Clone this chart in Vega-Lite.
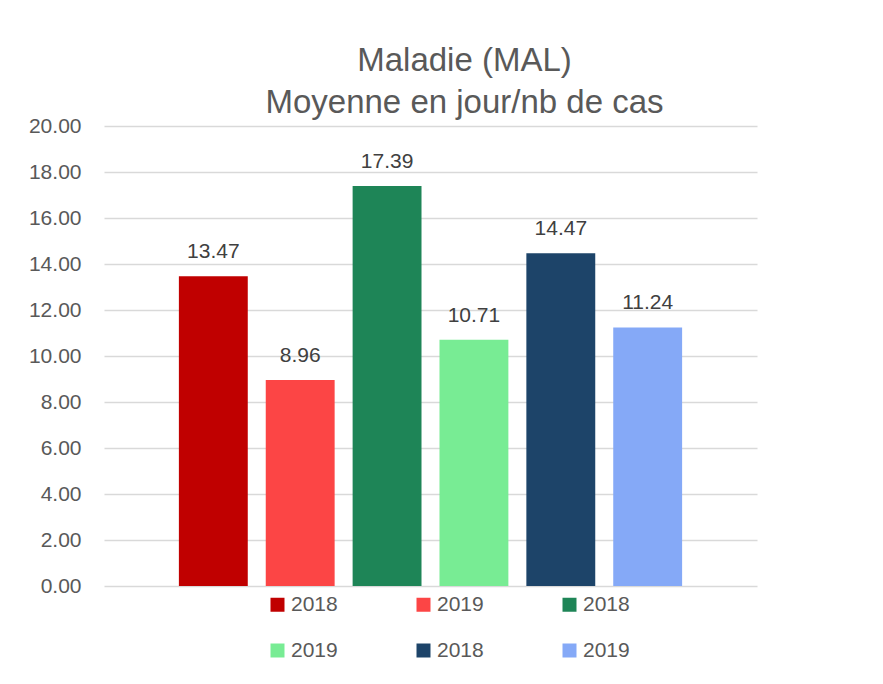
{
  "$schema": "https://vega.github.io/schema/vega-lite/v6.json",
  "autosize": {"type": "none"},
  "width": 653,
  "height": 460,
  "padding": {"left": 104, "top": 126, "right": 126, "bottom": 98},
  "background": "white",
  "config": {
    "font": "Liberation Sans",
    "view": {"stroke": null},
    "axis": {"labelFont": "Liberation Sans"}
  },
  "title": {
    "text": ["Maladie (MAL)", "Moyenne en jour/nb de cas"],
    "fontSize": 33,
    "fontWeight": "normal",
    "color": "#595959",
    "anchor": "middle",
    "baseline": "alphabetic",
    "lineHeight": 42,
    "offset": -31,
    "dx": 34
  },
  "data": {
    "values": [
      {"id": "a|2018", "valeur": 13.47},
      {"id": "b|2019", "valeur": 8.96},
      {"id": "c|2018", "valeur": 17.39},
      {"id": "d|2019", "valeur": 10.71},
      {"id": "e|2018", "valeur": 14.47},
      {"id": "f|2019", "valeur": 11.24}
    ]
  },
  "encoding": {
    "x": {
      "field": "id",
      "type": "nominal",
      "sort": null,
      "axis": null,
      "scale": {"paddingInner": 0.207, "paddingOuter": 0.862}
    },
    "y": {
      "field": "valeur",
      "type": "quantitative",
      "scale": {"domain": [0, 20], "nice": false},
      "axis": {
        "values": [0, 2, 4, 6, 8, 10, 12, 14, 16, 18, 20],
        "format": ".2f",
        "title": null,
        "domain": false,
        "ticks": false,
        "tickSize": 0,
        "labelPadding": 23,
        "labelFontSize": 21,
        "labelColor": "#595959",
        "gridColor": "#d9d9d9",
        "gridWidth": 1.5
      }
    }
  },
  "layer": [
    {
      "mark": {"type": "bar"},
      "encoding": {
        "color": {
          "field": "id",
          "type": "nominal",
          "sort": null,
          "scale": {
            "domain": ["a|2018", "b|2019", "c|2018", "d|2019", "e|2018", "f|2019"],
            "range": ["#C00000", "#FC4545", "#1E8557", "#78EC94", "#1D4469", "#85A9F7"]
          },
          "legend": {
            "title": null,
            "orient": "none",
            "legendX": 163,
            "legendY": 468,
            "direction": "horizontal",
            "columns": 3,
            "columnPadding": 75,
            "rowPadding": 24,
            "symbolType": "square",
            "symbolSize": 196,
            "symbolStrokeWidth": 0,
            "labelFontSize": 21,
            "labelColor": "#595959",
            "labelOffset": 3,
            "labelExpr": "slice(datum.value, 2)"
          }
        }
      }
    },
    {
      "mark": {"type": "text", "baseline": "alphabetic", "dy": -18, "fontSize": 21, "color": "#404040"},
      "encoding": {
        "text": {"field": "valeur", "type": "quantitative", "format": ".2f"}
      }
    }
  ]
}
